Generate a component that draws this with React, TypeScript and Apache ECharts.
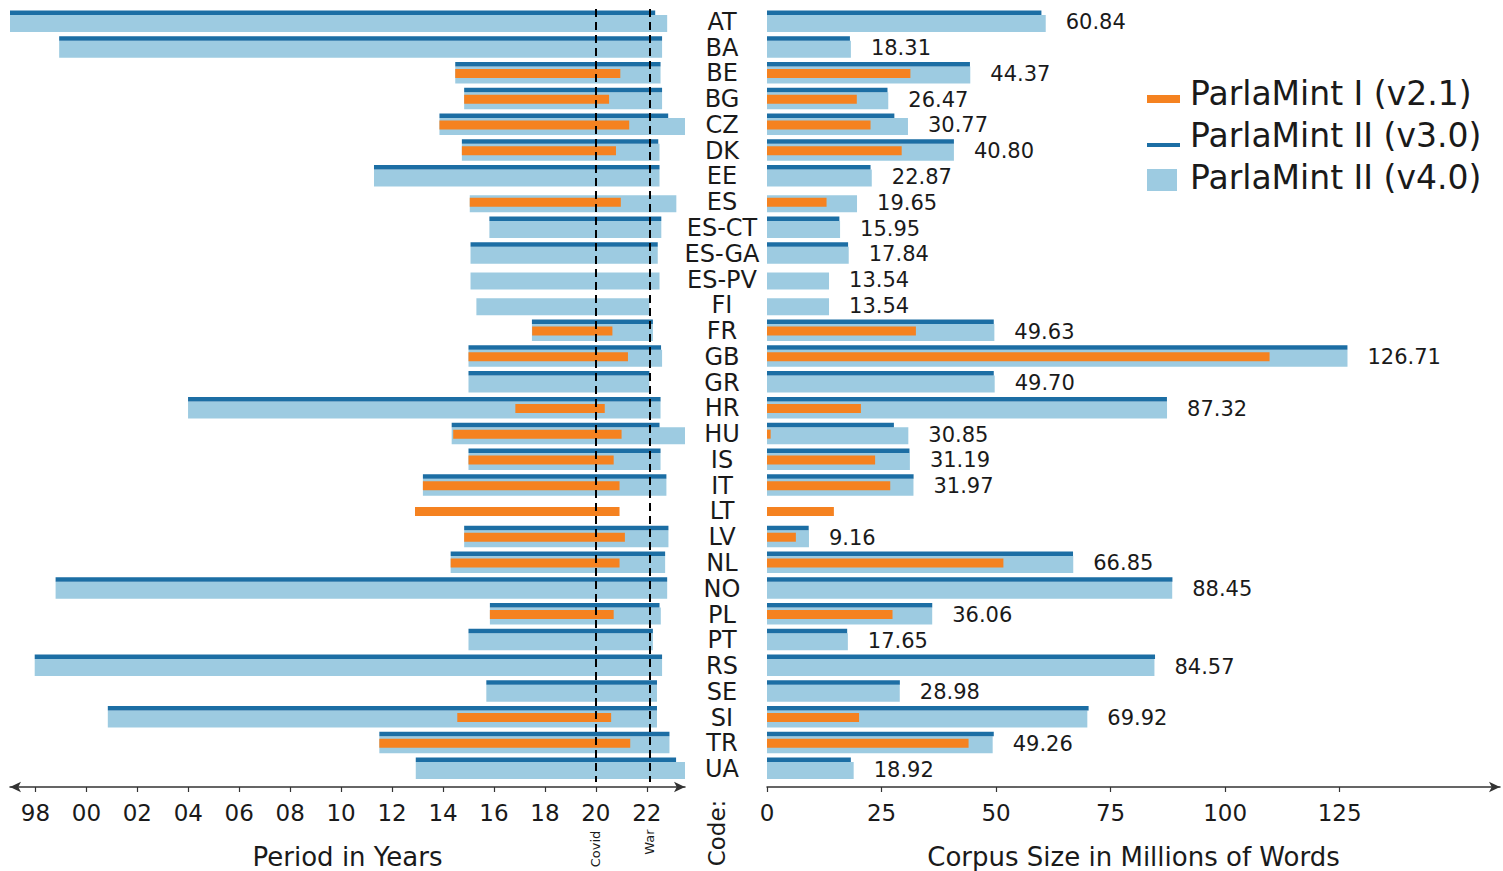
import React, { useEffect, useRef } from 'react';
import * as echarts from 'echarts';

// ---------- data ----------
const codes = ['AT', 'BA', 'BE', 'BG', 'CZ', 'DK', 'EE', 'ES', 'ES-CT', 'ES-GA', 'ES-PV', 'FI', 'FR', 'GB', 'GR', 'HR', 'HU', 'IS', 'IT', 'LT', 'LV', 'NL', 'NO', 'PL', 'PT', 'RS', 'SE', 'SI', 'TR', 'UA'];

// covered period (decimal years) per corpus version
const periodV21: ([number, number] | null)[] = [
  null, null, [2014.48, 2020.96], [2014.83, 2020.52], [2013.86, 2021.31], [2014.74, 2020.79], null, [2015.05, 2020.98],
  null, null, null, null, [2017.5, 2020.65], [2015.0, 2021.26], null, [2016.84, 2020.35], [2014.4, 2021.01],
  [2015.0, 2020.7], [2013.21, 2020.93], [2012.9, 2020.93], [2014.83, 2021.14], [2014.3, 2020.93], null,
  [2015.84, 2020.7], null, null, null, [2014.56, 2020.6], [2011.5, 2021.35], null,
];
const periodV30: ([number, number] | null)[] = [
  [1996.0, 2022.33], [1998.93, 2022.6], [2014.48, 2022.54], [2014.83, 2022.6], [2013.86, 2022.84], [2014.74, 2022.45],
  [2011.29, 2022.5], null, [2015.82, 2022.57], [2015.08, 2022.43], null, null, [2017.49, 2022.24], [2015.0, 2022.56],
  [2015.0, 2022.1], [2003.99, 2022.54], [2014.34, 2022.5], [2015.0, 2022.54], [2013.21, 2022.77], null,
  [2014.83, 2022.85], [2014.3, 2022.72], [1998.79, 2022.8], [2015.84, 2022.5], [2015.0, 2022.24], [1997.97, 2022.6],
  [2015.7, 2022.4], [2000.84, 2022.4], [2011.5, 2022.89], [2012.93, 2023.15],
];
const periodV40: ([number, number] | null)[] = [
  [1996.0, 2022.8], [1998.93, 2022.6], [2014.48, 2022.54], [2014.83, 2022.6], [2013.86, 2023.5], [2014.74, 2022.5],
  [2011.29, 2022.5], [2015.05, 2023.16], [2015.82, 2022.57], [2015.08, 2022.43], [2015.08, 2022.5], [2015.31, 2022.1],
  [2017.49, 2022.24], [2015.0, 2022.6], [2015.0, 2022.1], [2003.99, 2022.54], [2014.34, 2023.5], [2015.0, 2022.54],
  [2013.21, 2022.77], null, [2014.83, 2022.85], [2014.3, 2022.72], [1998.79, 2022.8], [2015.84, 2022.55],
  [2015.0, 2022.24], [1997.97, 2022.6], [2015.7, 2022.4], [2000.84, 2022.4], [2011.5, 2022.89], [2012.93, 2023.5],
];

// corpus size in millions of words per corpus version
const sizeV21: (number | null)[] = [
  null, null, 31.3, 19.6, 22.6, 29.4, null, 13.0, null, null, null, null, 32.5, 109.7, null, 20.5, 0.8,
  23.6, 26.9, 14.6, 6.3, 51.6, null, 27.4, null, null, null, 20.1, 44.0, null,
];
const sizeV30: (number | null)[] = [
  59.9, 18.1, 44.3, 26.3, 27.8, 40.8, 22.6, null, 15.8, 17.7, null, null, 49.5, 126.7, 49.5, 87.3, 27.7,
  31.1, 32.0, null, 9.1, 66.8, 88.5, 36.07, 17.5, 84.7, 29.0, 70.2, 49.5, 18.3,
];
const sizeV40: (number | null)[] = [
  60.84, 18.31, 44.37, 26.47, 30.77, 40.80, 22.87, 19.65, 15.95, 17.84, 13.54, 13.54, 49.63, 126.71, 49.70, 87.32,
  30.85, 31.19, 31.97, null, 9.16, 66.85, 88.45, 36.06, 17.65, 84.57, 28.98, 69.92, 49.26, 18.92,
];

const yearTicks = [1998, 2000, 2002, 2004, 2006, 2008, 2010, 2012, 2014, 2016, 2018, 2020, 2022];
const sizeTicks = [0, 25, 50, 75, 100, 125];
const events = [
  { name: 'Covid', year: 2020.0 },
  { name: 'War', year: 2022.1 },
];
const legendNames = ['ParlaMint I (v2.1)', 'ParlaMint II (v3.0)', 'ParlaMint II (v4.0)'];

// ---------- style ----------
const FONT = 'DejaVu Sans';
const TEXT = '#1a1a1a';
const ORANGE = '#F58220';
const DARK = '#1C6EA4';
const LIGHT = '#9DCBE1';
const ROW = 25.76;
// [offset from row centre, height] in reference pixels
const LAYER_V4: [number, number] = [-7, 17];
const LAYER_V3: [number, number] = [-11.5, 4.5];
const LAYER_V21: [number, number] = [-4.5, 9];

function makeRenderer(layer: [number, number], color: string, withLabel: boolean) {
  return function (params: any, api: any) {
    const idx = api.value(0);
    const a = api.value(1);
    const b = api.value(2);
    const p0 = api.coord([a, idx]);
    const p1 = api.coord([b, idx]);
    const k = api.size([0, 1])[1] / ROW;
    const cs = params.coordSys;
    const rect = echarts.graphic.clipRectByRect(
      { x: p0[0], y: p0[1] + layer[0] * k, width: p1[0] - p0[0], height: layer[1] * k },
      { x: cs.x, y: cs.y, width: cs.width, height: cs.height }
    );
    const children: any[] = [];
    if (rect) children.push({ type: 'rect', shape: rect, style: { fill: color } });
    if (withLabel) {
      children.push({
        type: 'text',
        x: p1[0] + 20,
        y: p0[1] + 0.5,
        style: {
          text: b.toFixed(2),
          fontSize: 21,
          fontFamily: FONT,
          fill: TEXT,
          align: 'left',
          verticalAlign: 'middle',
        },
      });
    }
    return { type: 'group', children };
  };
}

function rangeData(arr: ([number, number] | null)[]) {
  const out: number[][] = [];
  arr.forEach((p, i) => {
    if (p) out.push([i, p[0], p[1]]);
  });
  return out;
}
function sizeData(arr: (number | null)[]) {
  const out: number[][] = [];
  arr.forEach((v, i) => {
    if (v != null) out.push([i, 0, v]);
  });
  return out;
}

function customSeries(name: string, grid: number, data: number[][], layer: [number, number], color: string, z: number, withLabel = false) {
  return {
    type: 'custom',
    name,
    xAxisIndex: grid,
    yAxisIndex: grid,
    z,
    silent: true,
    itemStyle: { color },
    encode: { x: [1, 2], y: 0 },
    renderItem: makeRenderer(layer, color, withLabel),
    data,
  };
}

function axisCommon(extra: any) {
  return {
    type: 'value',
    offset: 5,
    splitLine: { show: false },
    nameLocation: 'middle',
    nameGap: 57,
    nameTextStyle: { fontSize: 26, color: TEXT, fontFamily: FONT },
    ...extra,
  };
}

export default function App() {
  const ref = useRef<HTMLDivElement>(null);

  useEffect(() => {
    if (!ref.current) return;
    const chart = echarts.init(ref.current, undefined, { renderer: 'svg' });

    const option: any = {
      animation: false,
      backgroundColor: '#ffffff',
      textStyle: { fontFamily: FONT },
      grid: [
        { left: 10, top: 9, width: 675, height: 773, containLabel: false, outerBoundsMode: 'none' },
        { left: 767, top: 9, width: 733, height: 773, containLabel: false, outerBoundsMode: 'none' },
      ],
      xAxis: [
        axisCommon({
          gridIndex: 0,
          min: 1997,
          max: 2023.5,
          name: 'Period in Years',
          axisLine: { show: true, lineStyle: { color: '#333', width: 1.5 }, symbol: ['arrow', 'arrow'], symbolSize: [8, 11] },
          axisTick: { show: true, customValues: yearTicks, length: 5, lineStyle: { color: '#333', width: 1.2 } },
          axisLabel: {
            customValues: yearTicks,
            formatter: (v: number) => String(Math.round(v) % 100).padStart(2, '0'),
            fontSize: 23,
            color: TEXT,
            fontFamily: FONT,
            margin: 14,
          },
        }),
        axisCommon({
          gridIndex: 1,
          min: 0,
          max: 160,
          name: 'Corpus Size in Millions of Words',
          axisLine: { show: true, lineStyle: { color: '#333', width: 1.5 }, symbol: ['none', 'arrow'], symbolSize: [8, 11] },
          axisTick: { show: true, customValues: sizeTicks, length: 5, lineStyle: { color: '#333', width: 1.2 } },
          axisLabel: { customValues: sizeTicks, fontSize: 23, color: TEXT, fontFamily: FONT, margin: 14 },
        }),
      ],
      yAxis: [
        { type: 'category', gridIndex: 0, data: codes, inverse: true, show: false },
        {
          type: 'category',
          gridIndex: 1,
          data: codes,
          inverse: true,
          axisLine: { show: false },
          axisTick: { show: false },
          splitLine: { show: false },
          axisLabel: { interval: 0, fontSize: 24, lineHeight: 24, color: TEXT, fontFamily: FONT, align: 'center', margin: 45 },
        },
      ],
      legend: {
        orient: 'vertical',
        left: 1142,
        top: 70,
        itemWidth: 38,
        itemHeight: 28,
        itemGap: 6,
        selectedMode: false,
        textStyle: { fontSize: 33, color: TEXT, fontFamily: FONT, lineHeight: 36 },
        data: [
          { name: legendNames[0], icon: 'path://M0,0M0,16h33v8h-33zM38,28', itemStyle: { color: ORANGE } },
          { name: legendNames[1], icon: 'path://M0,0M0,22h33v4h-33zM38,28', itemStyle: { color: DARK } },
          { name: legendNames[2], icon: 'path://M0,0M0,6h30v22h-30zM38,28', itemStyle: { color: LIGHT } },
        ],
      },
      series: [
        customSeries(legendNames[2], 0, rangeData(periodV40), LAYER_V4, LIGHT, 2),
        customSeries(legendNames[1], 0, rangeData(periodV30), LAYER_V3, DARK, 3),
        customSeries(legendNames[0], 0, rangeData(periodV21), LAYER_V21, ORANGE, 4),
        customSeries(legendNames[2], 1, sizeData(sizeV40), LAYER_V4, LIGHT, 2, true),
        customSeries(legendNames[1], 1, sizeData(sizeV30), LAYER_V3, DARK, 3),
        customSeries(legendNames[0], 1, sizeData(sizeV21), LAYER_V21, ORANGE, 4),
        {
          type: 'line',
          name: 'events',
          xAxisIndex: 0,
          yAxisIndex: 0,
          z: 10,
          data: [],
          silent: true,
          markLine: {
            silent: true,
            symbol: ['none', 'none'],
            label: { show: false },
            lineStyle: { color: '#000', type: [8, 5], width: 2 },
            data: events.map((e) => ({ xAxis: e.year, name: e.name })),
          },
        },
      ],
    };

    chart.setOption(option);

    const graphic: any[] = events.map((e, i) => {
      const px = chart.convertToPixel({ xAxisIndex: 0 } as any, e.year) as unknown as number;
      return {
        type: 'text',
        x: px,
        y: i === 0 ? 849 : 842,
        rotation: Math.PI / 2,
        style: { text: e.name, fontSize: 13, fontFamily: FONT, fill: TEXT, align: 'center', verticalAlign: 'middle' },
      };
    });
    graphic.push({
      type: 'text',
      x: 717,
      y: 833,
      rotation: Math.PI / 2,
      style: { text: 'Code:', fontSize: 23, fontFamily: FONT, fill: TEXT, align: 'center', verticalAlign: 'middle' },
    });
    chart.setOption({ graphic });

    return () => chart.dispose();
  }, []);

  return (
    <div
      ref={ref}
      style={{ position: 'fixed', left: 0, top: 0, width: 1503, height: 871, background: '#fff' }}
    />
  );
}
